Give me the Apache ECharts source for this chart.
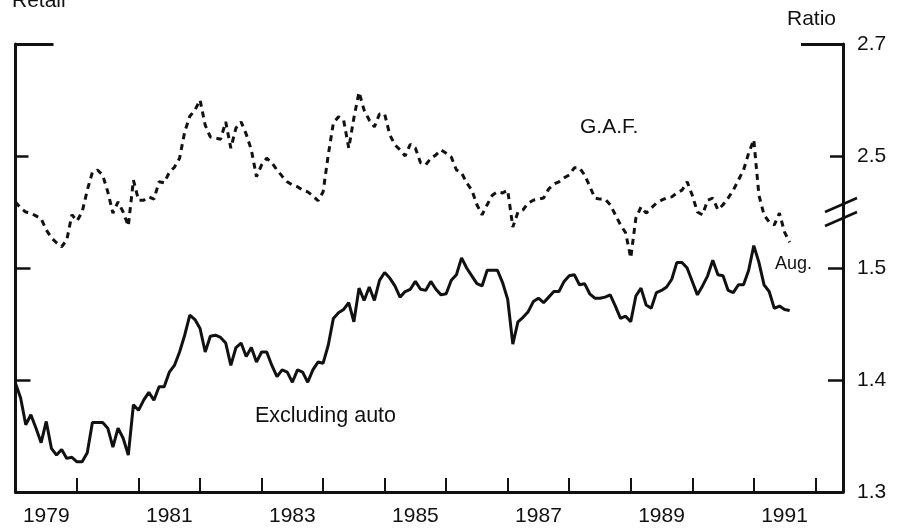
<!DOCTYPE html>
<html>
<head>
<meta charset="utf-8">
<script src="https://cdn.jsdelivr.net/npm/echarts@6/dist/echarts.min.js"></script>
<style>
  html, body { margin: 0; padding: 0; background: #fff; }
  #chart { width: 897px; height: 529px; }
</style>
</head>
<body>
<div id="chart"></div>
<script>
// monthly series, Jan 1979 .. Aug 1991
const startYear = 1979;
const yearTicks = [1980, 1981, 1982, 1983, 1984, 1985, 1986, 1987, 1988, 1989, 1990, 1991, 1992];
const yearLabels = [1979, 1981, 1983, 1985, 1987, 1989, 1991];
const retailTicks = [1.4, 1.5];
const retailLabels = [1.3, 1.4, 1.5];
const gafTicks = [2.5];
const gafTopTick = [2.7];
const gafLabels = [2.5, 2.7];

// retail excluding auto (solid)
const retail = [
  1.397, 1.384, 1.360, 1.369, 1.357, 1.344, 1.363, 1.339, 1.333, 1.338, 1.330, 1.331,
  1.327, 1.327, 1.335, 1.362, 1.362, 1.362, 1.357, 1.340, 1.357, 1.348, 1.333, 1.378,
  1.373, 1.382, 1.389, 1.382, 1.394, 1.394, 1.407, 1.413, 1.425, 1.440, 1.458, 1.454,
  1.446, 1.425, 1.439, 1.440, 1.438, 1.433, 1.413, 1.429, 1.433, 1.421, 1.429, 1.416,
  1.425, 1.425, 1.413, 1.403, 1.409, 1.407, 1.398, 1.409, 1.407, 1.398, 1.409, 1.416,
  1.415, 1.431, 1.455, 1.460, 1.463, 1.469, 1.452, 1.482, 1.471, 1.483, 1.471, 1.489,
  1.496, 1.491, 1.484, 1.474, 1.479, 1.481, 1.488, 1.481, 1.480, 1.488, 1.481, 1.476,
  1.477, 1.489, 1.494, 1.509, 1.500, 1.493, 1.486, 1.484, 1.498, 1.498, 1.498, 1.487,
  1.472, 1.432, 1.452, 1.456, 1.461, 1.470, 1.473, 1.469, 1.474, 1.479, 1.479, 1.488,
  1.493, 1.494, 1.485, 1.486, 1.477, 1.473, 1.473, 1.474, 1.476, 1.466, 1.455, 1.457,
  1.452, 1.475, 1.482, 1.467, 1.464, 1.478, 1.480, 1.483, 1.490, 1.505, 1.505, 1.500,
  1.488, 1.476, 1.484, 1.493, 1.507, 1.494, 1.493, 1.480, 1.478, 1.485, 1.485, 1.498,
  1.520, 1.505, 1.485, 1.479, 1.464, 1.466, 1.463, 1.462
];

// G.A.F. (dashed)
const gaf = [
  2.418, 2.407, 2.400, 2.398, 2.393, 2.388, 2.368, 2.354, 2.345, 2.338, 2.350, 2.395,
  2.384, 2.400, 2.439, 2.471, 2.475, 2.466, 2.436, 2.398, 2.418, 2.400, 2.375, 2.457,
  2.421, 2.421, 2.427, 2.423, 2.454, 2.452, 2.471, 2.480, 2.496, 2.543, 2.571, 2.582,
  2.600, 2.555, 2.534, 2.532, 2.530, 2.561, 2.514, 2.550, 2.561, 2.539, 2.511, 2.463,
  2.484, 2.496, 2.488, 2.475, 2.464, 2.454, 2.448, 2.445, 2.439, 2.436, 2.429, 2.420,
  2.436, 2.502, 2.559, 2.570, 2.564, 2.514, 2.568, 2.614, 2.582, 2.564, 2.552, 2.575,
  2.575, 2.538, 2.520, 2.511, 2.500, 2.521, 2.514, 2.488, 2.484, 2.496, 2.502, 2.511,
  2.505, 2.498, 2.475, 2.470, 2.452, 2.439, 2.413, 2.395, 2.413, 2.430, 2.436, 2.434,
  2.439, 2.373, 2.400, 2.404, 2.416, 2.421, 2.423, 2.425, 2.441, 2.450, 2.454, 2.461,
  2.466, 2.479, 2.479, 2.466, 2.446, 2.425, 2.423, 2.423, 2.413, 2.395, 2.377, 2.363,
  2.318, 2.389, 2.409, 2.398, 2.407, 2.416, 2.421, 2.425, 2.427, 2.434, 2.439, 2.454,
  2.430, 2.400, 2.395, 2.421, 2.425, 2.404, 2.413, 2.425, 2.439, 2.457, 2.475, 2.505,
  2.529, 2.430, 2.395, 2.382, 2.377, 2.398, 2.364, 2.346
];

const ink = '#111';
const font = "'Liberation Sans', Arial, sans-serif";

const toPoints = (arr) => arr.map((v, i) => [startYear + i / 12, v]);

const chart = echarts.init(document.getElementById('chart'));

// helper for the stacked y axes (ticks of different lengths)
const yAx = (pos, min, max, opts) => Object.assign({
  type: 'value',
  position: pos,
  min: min,
  max: max,
  splitLine: { show: false },
  axisLine: { show: false },
  axisLabel: { show: false },
  axisTick: { show: false }
}, opts);

chart.setOption({
  animation: false,
  backgroundColor: '#fff',
  grid: { left: 15.5, right: 54, top: 44, bottom: 37 },
  xAxis: {
    type: 'value',
    min: 1979,
    max: 1992.45,
    splitLine: { show: false },
    axisLine: { lineStyle: { color: ink, width: 3 } },
    axisTick: {
      inside: true, length: 14, customValues: yearTicks,
      lineStyle: { color: ink, width: 2 }
    },
    axisLabel: {
      customValues: yearLabels.map(y => y + 0.5),
      formatter: (v) => String(Math.floor(v)),
      margin: 14,
      color: ink,
      fontSize: 21,
      fontFamily: font
    }
  },
  yAxis: [
    // 0: retail, right, with labels
    yAx('right', 1.3, 1.7, {
      axisLine: { show: true, lineStyle: { color: ink, width: 3 } },
      axisTick: { show: true, inside: true, length: 15, customValues: retailTicks, lineStyle: { color: ink, width: 2.5 } },
      axisLabel: {
        show: true, customValues: retailLabels, formatter: (v) => v.toFixed(1),
        margin: 14, color: ink, fontSize: 21, fontFamily: font
      }
    }),
    // 1: G.A.F., right, with labels
    yAx('right', 1.9, 2.7, {
      axisTick: { show: true, inside: true, length: 13, customValues: gafTicks, lineStyle: { color: ink, width: 2.5 } },
      axisLabel: {
        show: true, customValues: gafLabels, formatter: (v) => v.toFixed(1),
        margin: 14, color: ink, fontSize: 21, fontFamily: font
      }
    }),
    // 2: long top tick, right
    yAx('right', 1.9, 2.7, {
      axisTick: { show: true, inside: true, length: 42, customValues: gafTopTick, lineStyle: { color: ink, width: 3 } }
    }),
    // 3: retail, left (mirror, no labels)
    yAx('left', 1.3, 1.7, {
      axisLine: { show: true, lineStyle: { color: ink, width: 3 } },
      axisTick: { show: true, inside: true, length: 15, customValues: retailTicks, lineStyle: { color: ink, width: 2.5 } }
    }),
    // 4: G.A.F., left
    yAx('left', 1.9, 2.7, {
      axisTick: { show: true, inside: true, length: 13, customValues: gafTicks, lineStyle: { color: ink, width: 2.5 } }
    }),
    // 5: long top tick, left
    yAx('left', 1.9, 2.7, {
      axisTick: { show: true, inside: true, length: 38, customValues: gafTopTick, lineStyle: { color: ink, width: 3 } }
    })
  ],
  series: [
    {
      name: 'G.A.F.',
      type: 'line',
      yAxisIndex: 1,
      data: toPoints(gaf),
      symbol: 'none',
      lineStyle: { color: ink, width: 3, type: [6, 5] }
    },
    {
      name: 'Excluding auto',
      type: 'line',
      yAxisIndex: 0,
      data: toPoints(retail),
      symbol: 'none',
      lineStyle: { color: ink, width: 3 }
    }
  ]
});

// annotations + axis break on the right axis
const bx = chart.convertToPixel({ xAxisIndex: 0 }, 1992.45);
const by = chart.convertToPixel({ yAxisIndex: 1 }, 2.4);
const txt = (id, text, x, y, size) => ({
  id: id, type: 'text', x: x, y: y, z: 10,
  style: { text: text, fill: ink, font: size + 'px ' + font, verticalAlign: 'middle' }
});

chart.setOption({
  graphic: [
    txt('retail', 'Retail', 12, 1, 21),
    txt('ratio', 'Ratio', 787, 19.5, 21),
    txt('gafLbl', 'G.A.F.', 580, 127.5, 21),
    txt('aug', 'Aug.', 775, 264, 18),
    txt('exAuto', 'Excluding auto', 255, 416, 21.5),
    {
      id: 'brk1', type: 'line', z: 10,
      shape: { x1: bx - 18, y1: by, x2: bx + 14, y2: by - 14 },
      style: { stroke: ink, lineWidth: 2.5 }
    },
    {
      id: 'brk2', type: 'line', z: 10,
      shape: { x1: bx - 18, y1: by + 14, x2: bx + 14, y2: by },
      style: { stroke: ink, lineWidth: 2.5 }
    }
  ]
});
</script>
</body>
</html>
